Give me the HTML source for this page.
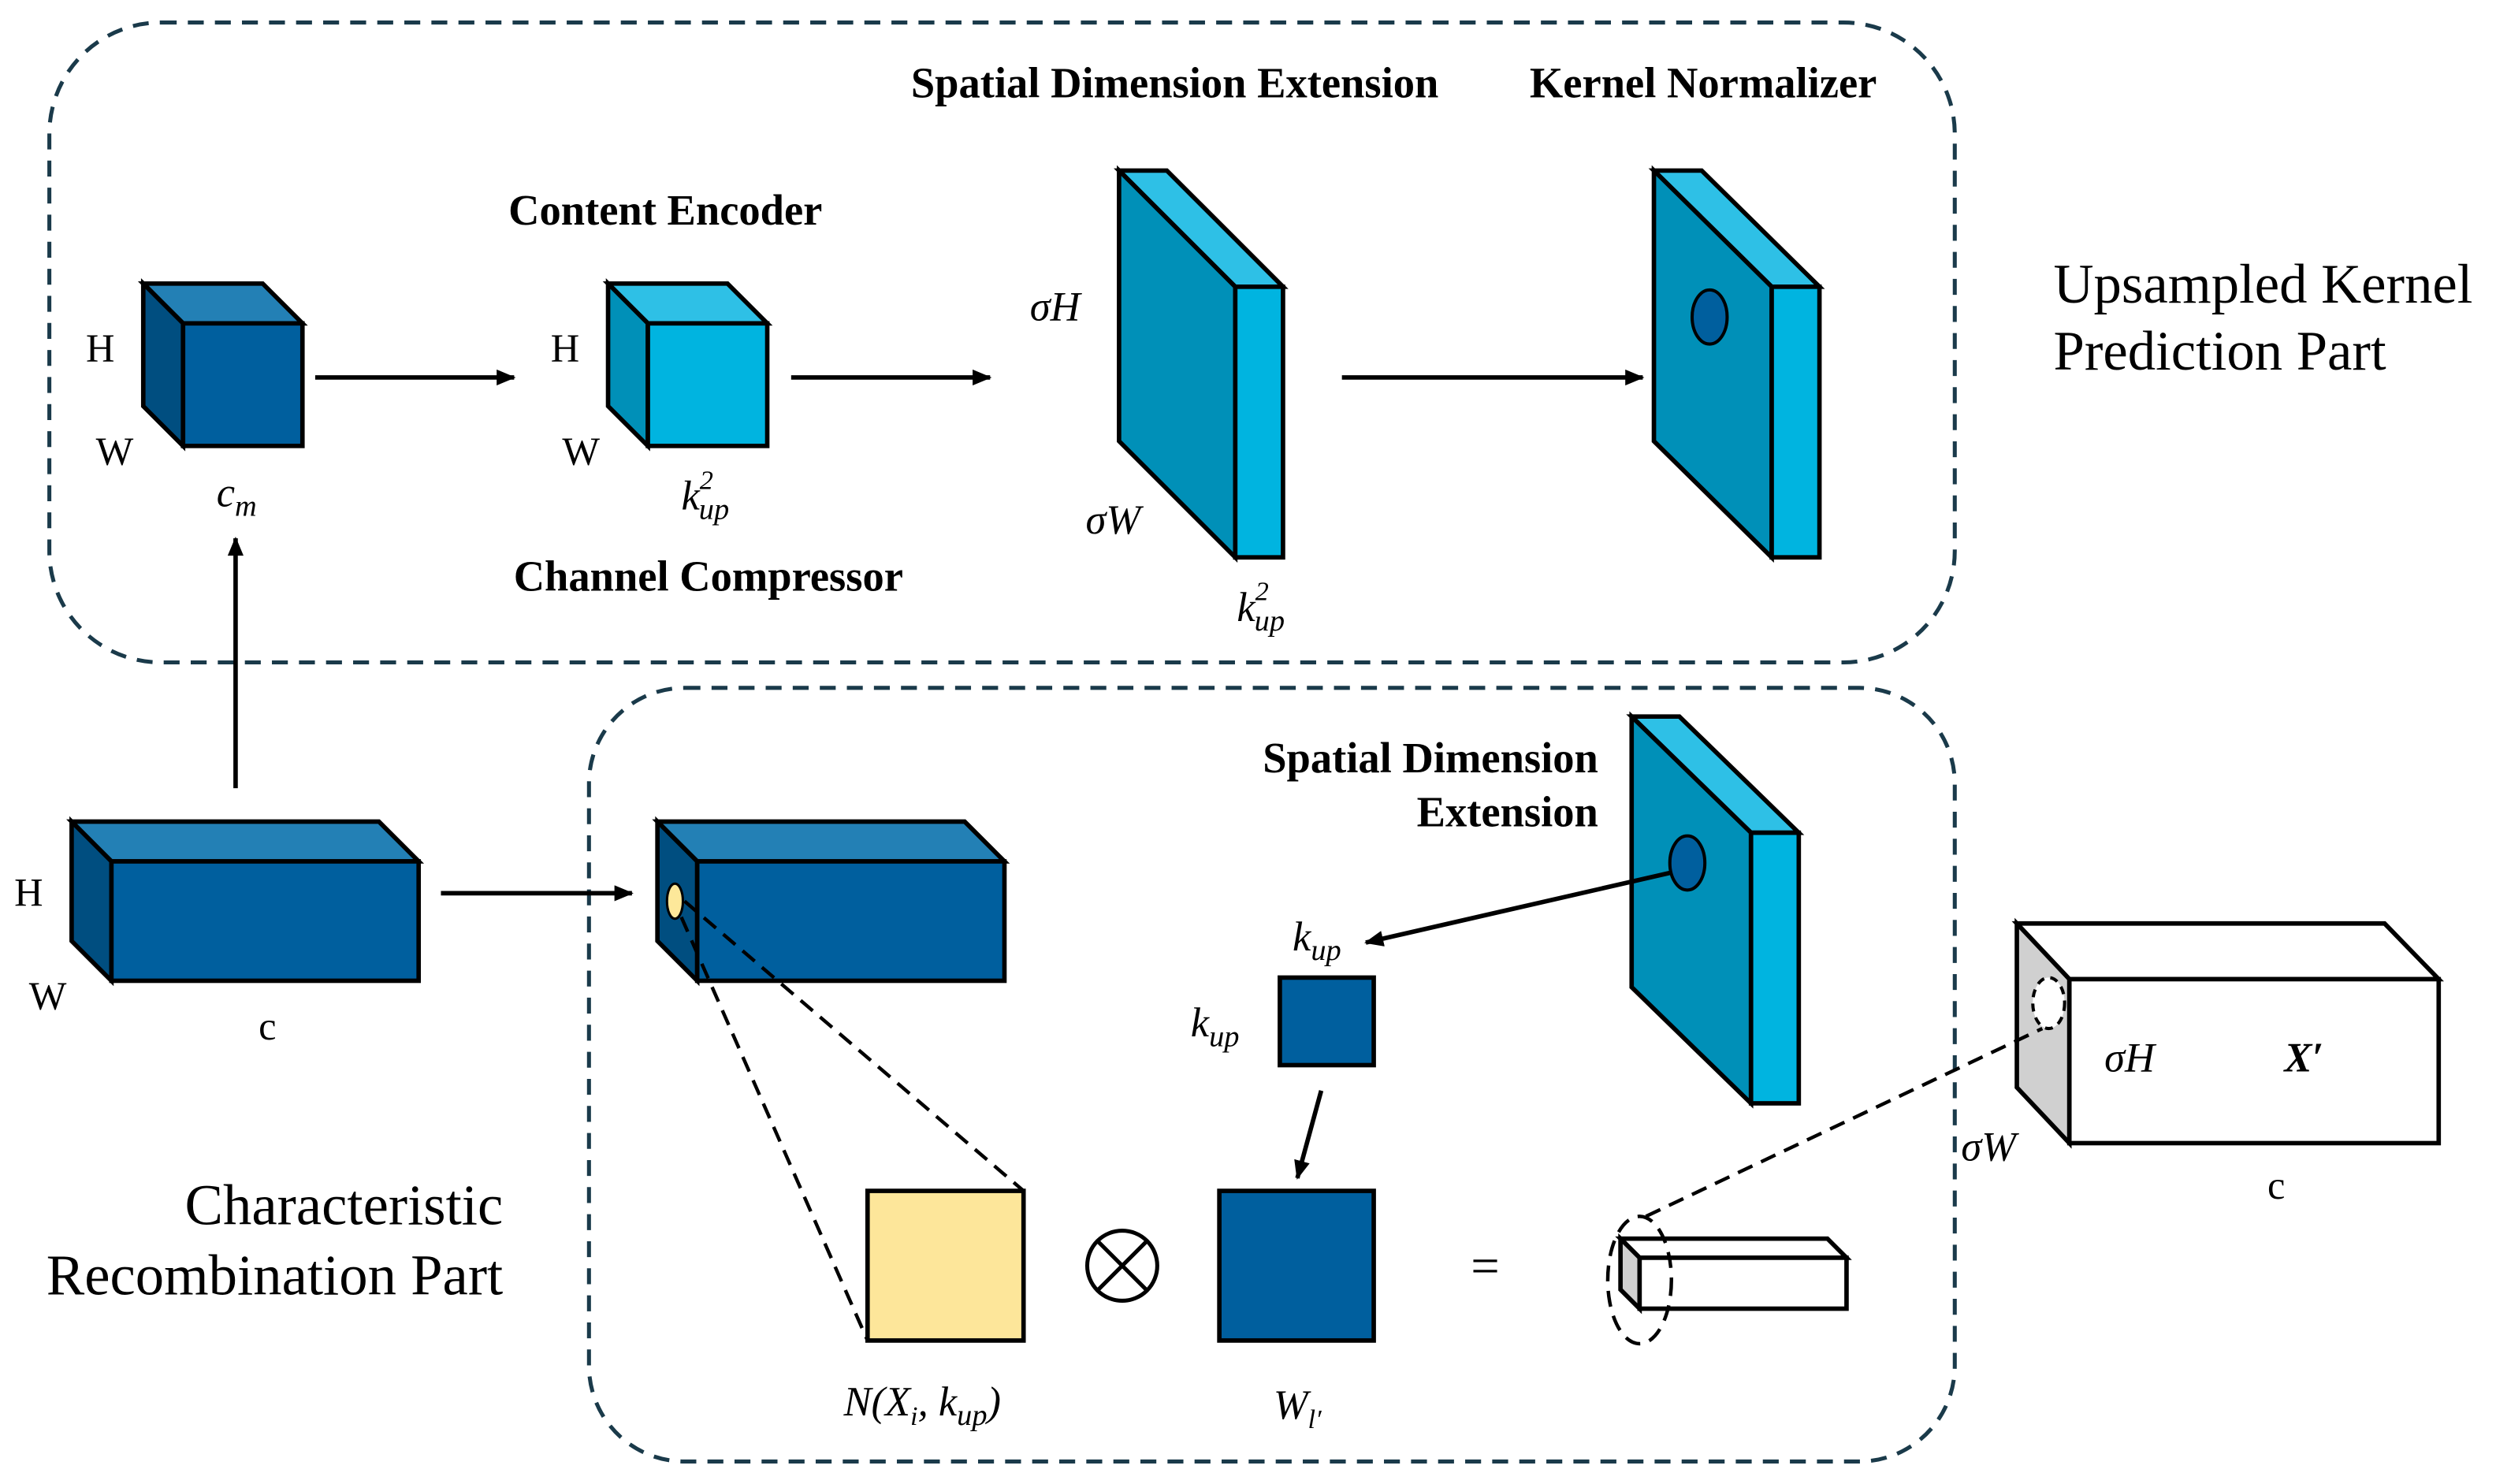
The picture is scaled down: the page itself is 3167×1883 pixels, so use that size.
<!DOCTYPE html>
<html><head><meta charset="utf-8"><style>
html,body{margin:0;padding:0;background:#fff;}
svg{display:block;}
text{font-family:"Liberation Serif",serif;fill:#000;}
.b{font-weight:bold;font-size:27px;}
.i{font-style:italic;font-size:26px;}
.r{font-size:25px;}
</style></head><body>
<svg width="3167" height="1883" viewBox="0 0 1568 932" xmlns="http://www.w3.org/2000/svg">
<defs>
<marker id="a" markerWidth="12" markerHeight="10" refX="11" refY="5" orient="auto" markerUnits="userSpaceOnUse">
<path d="M0,0 L12,5 L0,10 z" fill="#000"/></marker>
</defs>
<g fill="none" stroke="#1a3a4a" stroke-width="2.5" stroke-dasharray="10,7">
<rect x="31" y="14" width="1197" height="402" rx="70"/>
<rect x="370" y="432" width="858" height="486" rx="60"/>
</g>
<g stroke="#000" stroke-width="2.8" stroke-linejoin="miter">
<polygon points="90,178 165,178 190,203 115,203" fill="#2380b5"/>
<polygon points="90,178 115,203 115,280 90,255" fill="#004e80"/>
<rect x="115" y="203" width="75" height="77" fill="#005f9e"/>
<polygon points="382,178 457,178 482,203 407,203" fill="#2ec0e6"/>
<polygon points="382,178 407,203 407,280 382,255" fill="#0090b8"/>
<rect x="407" y="203" width="75" height="77" fill="#00b4e0"/>
<polygon points="703,107 733,107 806,180 776,180" fill="#2ec0e6"/>
<polygon points="703,107 776,180 776,350 703,277" fill="#0090b8"/>
<rect x="776" y="180" width="30" height="170" fill="#00b4e0"/>
<polygon points="1039,107 1069,107 1143,180 1113,180" fill="#2ec0e6"/>
<polygon points="1039,107 1113,180 1113,350 1039,277" fill="#0090b8"/>
<rect x="1113" y="180" width="30" height="170" fill="#00b4e0"/>
<ellipse cx="1074" cy="199" rx="11" ry="17" fill="#005f9e" stroke-width="2"/>
<polygon points="45,516 238,516 263,541 70,541" fill="#2380b5"/>
<polygon points="45,516 70,541 70,616 45,591" fill="#004e80"/>
<rect x="70" y="541" width="193" height="75" fill="#005f9e"/>
<polygon points="413,516 606,516 631,541 438,541" fill="#2380b5"/>
<polygon points="413,516 438,541 438,616 413,591" fill="#004e80"/>
<rect x="438" y="541" width="193" height="75" fill="#005f9e"/>
<ellipse cx="424" cy="566" rx="5" ry="11" fill="#fde89a" stroke-width="1.5"/>
<polygon points="1025,450 1055,450 1130,523 1100,523" fill="#2ec0e6"/>
<polygon points="1025,450 1100,523 1100,693 1025,620" fill="#0090b8"/>
<rect x="1100" y="523" width="30" height="170" fill="#00b4e0"/>
<ellipse cx="1060" cy="542" rx="11" ry="17" fill="#005f9e" stroke-width="2"/>
<rect x="804" y="614" width="59" height="55" fill="#005f9e"/>
<rect x="545" y="748" width="98" height="94" fill="#fde69a"/>
<rect x="766" y="748" width="97" height="94" fill="#005f9e"/>
<polygon points="1018,778 1148,778 1160,790 1030,790" fill="#fff"/>
<polygon points="1018,778 1030,790 1030,822 1018,810" fill="#d0d0d0"/>
<rect x="1030" y="790" width="130" height="32" fill="#fff"/>
<polygon points="1267,580 1498,580 1532,615 1300,615" fill="#fff"/>
<polygon points="1267,580 1300,615 1300,718 1267,683" fill="#d0d0d0"/>
<rect x="1300" y="615" width="232" height="103" fill="#fff"/>
</g>
<g stroke="#000" stroke-width="2.5" fill="none">
<circle cx="705" cy="795" r="22"/>
<line x1="689" y1="779" x2="721" y2="811"/><line x1="721" y1="779" x2="689" y2="811"/>
</g>
<g stroke="#000" stroke-width="2.2" fill="none" stroke-dasharray="10,6">
<line x1="428" y1="576" x2="545" y2="842"/>
<line x1="430" y1="566" x2="643" y2="748"/>
<ellipse cx="1030" cy="804" rx="20" ry="40"/>
<line x1="1034" y1="764" x2="1283" y2="646"/>
</g>
<ellipse cx="1287" cy="630" rx="10" ry="16" fill="#fff" stroke="#000" stroke-width="2" stroke-dasharray="5,4"/>
<g stroke="#000" stroke-width="2.8" marker-end="url(#a)">
<line x1="198" y1="237" x2="323" y2="237"/>
<line x1="497" y1="237" x2="622" y2="237"/>
<line x1="843" y1="237" x2="1032" y2="237"/>
<line x1="148" y1="495" x2="148" y2="338"/>
<line x1="277" y1="561" x2="397" y2="561"/>
<line x1="1050" y1="548" x2="858" y2="592"/>
<line x1="830" y1="685" x2="815" y2="740"/>
</g>
<text class="b" x="738" y="61" text-anchor="middle">Spatial Dimension Extension</text>
<text class="b" x="1070" y="61" text-anchor="middle">Kernel Normalizer</text>
<text class="b" x="418" y="141" text-anchor="middle">Content Encoder</text>
<text class="b" x="445" y="371" text-anchor="middle">Channel Compressor</text>
<text class="b" x="1004" y="485" text-anchor="end">Spatial Dimension</text>
<text class="b" x="1004" y="519" text-anchor="end">Extension</text>
<text x="1290" y="190" style="font-size:35px">Upsampled Kernel</text>
<text x="1290" y="232" style="font-size:35px">Prediction Part</text>
<text x="316" y="769" text-anchor="end" style="font-size:36px">Characteristic</text>
<text x="316" y="813" text-anchor="end" style="font-size:36px">Recombination Part</text>
<text class="r" x="63" y="227" text-anchor="middle">H</text>
<text class="r" x="72" y="292" text-anchor="middle">W</text>
<text class="r" x="355" y="227" text-anchor="middle">H</text>
<text class="r" x="365" y="292" text-anchor="middle">W</text>
<text class="r" x="18" y="569" text-anchor="middle">H</text>
<text class="r" x="30" y="634" text-anchor="middle">W</text>
<text class="r" x="168" y="653" text-anchor="middle">c</text>
<text class="r" x="1430" y="753" text-anchor="middle">c</text>
<text class="i" x="136" y="318">c<tspan font-size="19" dy="6">m</tspan></text>
<text class="i" x="428" y="320">k<tspan font-size="17" dy="-13">2</tspan><tspan font-size="19" dx="-9" dy="19">up</tspan></text>
<text class="i" x="777" y="390">k<tspan font-size="17" dy="-13">2</tspan><tspan font-size="19" dx="-9" dy="19">up</tspan></text>
<text class="i" x="647" y="201">σH</text>
<text class="i" x="682" y="335">σW</text>
<text class="i" x="812" y="597">k<tspan font-size="19" dy="6">up</tspan></text>
<text class="i" x="748" y="651">k<tspan font-size="19" dy="6">up</tspan></text>
<text class="i" x="530" y="889">N(X<tspan font-size="17" dy="6">i</tspan><tspan dy="-6">, k</tspan><tspan font-size="19" dy="6">up</tspan><tspan dy="-6">)</tspan></text>
<text class="i" x="800" y="891">W<tspan font-size="17" dy="6">l′</tspan></text>
<text class="r" x="933" y="806" text-anchor="middle" style="font-size:32px">=</text>
<text class="i" x="1322" y="673">σH</text>
<text class="i" x="1435" y="673" font-weight="bold">X′</text>
<text class="i" x="1232" y="729">σW</text>
</svg>
</body></html>
